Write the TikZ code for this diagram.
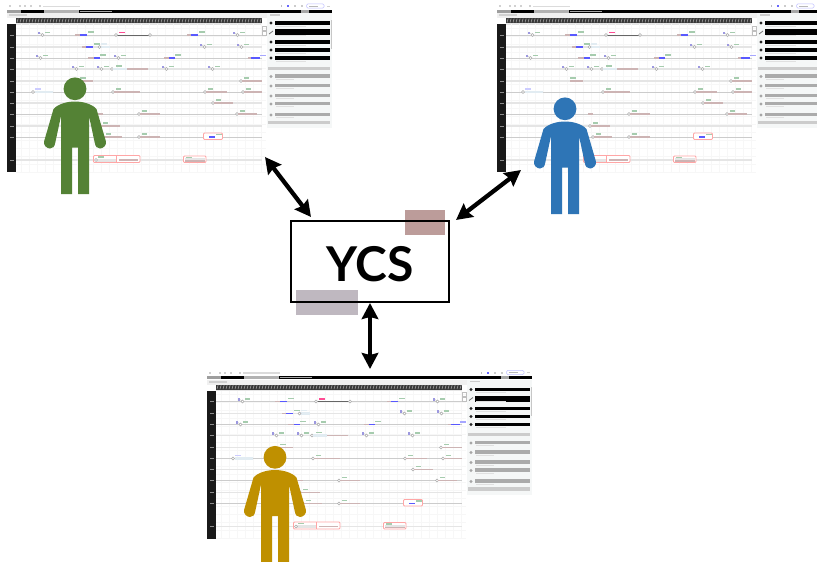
\documentclass[tikz,border=0pt]{standalone}
\usepackage{fontspec}
\setmainfont{Lato}
\usetikzlibrary{arrows.meta}
\definecolor{pgreen}{HTML}{548235}
\definecolor{pblue}{HTML}{2E75B6}
\definecolor{pgold}{HTML}{BF9000}
\definecolor{barpink}{HTML}{CDB4B4}
\definecolor{tagpurple}{HTML}{9C98E0}
\definecolor{taggreen}{HTML}{A6CCAE}
\definecolor{taggrey}{HTML}{ABABAB}
\definecolor{panelbg}{HTML}{F5F7F7}
\definecolor{lightblue}{HTML}{E2ECF2}
\definecolor{patchred}{HTML}{BC9C9A}
\definecolor{patchgrey}{HTML}{BFB8C0}
\tikzset{
  link/.style={line width=4.3pt,{Stealth[length=16pt,width=16.5pt,inset=2pt]}-{Stealth[length=16pt,width=16.5pt,inset=2pt]},black},
  ycsbox/.style={draw=black,line width=2pt,minimum width=158pt,minimum height=81pt,inner sep=0pt},
  person/.style={line join=round},
  redbox/.style={draw=red!35,line width=.8pt,fill=white,rounded corners=1pt},
}
\newcommand\gtag[3][taggreen]{\fill[#1] (#2,#3-.9) rectangle ++(5.5,1.6);}
\newcommand\ring[2]{\draw[taggrey,line width=.6pt,fill=white] (#1,#2) circle (1.5);}
\newcommand\tagmark[2]{\fill[tagpurple] (#1,#2-3.2) rectangle ++(2.2,2.4);\draw[taggrey!70,line width=.4pt] (#1+2,#2-2) -- (#1+4.5,#2);\ring{#1+4.5}{#2}\gtag{#1+6.5}{#2-2.5}}
\newcommand\pbar[3]{\fill[barpink] (#1,#3-.8) rectangle (#2,#3+.8);}
\newcommand\bbar[3]{\fill[blue!65] (#1,#3-.9) rectangle (#2,#3+.9);}
\newcommand\lbar[3]{\fill[lightblue] (#1,#3-1.2) rectangle (#2,#3+1.2);}
\newcommand\tick[3]{\ring{#1}{#3}\pbar{#1+1}{#2}{#3}\gtag{#1+2.5}{#3-3}}
\newcommand\paneltext[2]{\fill[black!12] (276,#2+2.6) rectangle ++(#1,1);}
\newcommand\screenshot{%
  % toolbar
  \foreach \x in {10,20,25,31,40} {\fill[black!18] (\x-1.2,5.2) rectangle ++(2.4,2);}
  \fill[black!14] (43,5.6) rectangle (80,7);
  \fill[black!25] (280.5,5.4) rectangle ++(1.6,1.6);
  \fill[blue!60] (286.5,5.2) rectangle ++(2,2);
  \foreach \x in {295,302} {\fill[black!20] (\x-1,5.2) rectangle ++(2,2);}
  \draw[blue!25,line width=.5pt,rounded corners=1.5pt,fill=white] (306.5,3.8) rectangle (324,8.2);
  \fill[black!28] (309,5.5) rectangle (318,6.6);
  \fill[black!18] (327,5.6) rectangle (330,6.6);
  % header strips
  \fill[black!6] (7,13) rectangle (267,18);
  \fill[black!10] (16,23) rectangle (262,24.5);
  % black bar
  \fill[black] (7,9.5) rectangle (332,12.6);
  \fill[black!38] (7,9.5) rectangle (21,12.6);
  \fill[black!30] (44,9.5) rectangle (79,12.6);
  \fill[black!35] (301,9.5) rectangle (309,12.6);
  \fill[black!35] (80,10.5) rectangle (112,11.4);
  \fill[black!18] (9,14) rectangle (27,16);
  % grid
  \foreach \x in {21,29,...,266} {\draw[black!3,line width=.3pt] (\x,24) -- (\x,172);}
  \foreach \y in {28,36,...,172} {\draw[black!3,line width=.3pt] (16,\y) -- (266,\y);}
  % time ruler and label column
  \fill[black!78] (16,18) rectangle (262,23);
  \foreach \x in {17,20,...,261} {\draw[white!70!black,line width=.5pt] (\x,22.5) -- (\x+1.2,18.5);}
  \fill[black!90] (7,24) rectangle (16,172);
  \foreach \y in {35,47,58,69,81,92,103,114,126,137,160} {
    \fill[black!45] (10,\y-.4) rectangle (14,\y+.4);}
  \foreach \y in {35,58,92,114,137} {\draw[black!20,line width=.7pt] (16,\y) -- (262,\y);}
  \foreach \y in {47,69,81,103,126,160} {\draw[black!10,line width=1.6pt] (16,\y) -- (262,\y);}
  \draw[black!25,line width=.5pt] (262.5,26) rectangle (266.5,30);
  \draw[black!25,line width=.5pt] (262.5,31) rectangle (266.5,35);
  % row 35
  \tagmark{38}{35}
  \pbar{75}{82}{35}\bbar{80}{87}{35}\gtag{88}{32}
  \draw[black!60,line width=1pt] (116,35) -- (150,35);\ring{116}{35}\ring{150}{35}
  \gtag[red!60!magenta!70]{119}{32.5}
  \pbar{187}{192}{35}\bbar{191}{198}{35}\gtag{199}{32}
  \tagmark{233}{35}
  % row 47
  \pbar{82}{88}{47}\bbar{86}{93}{47}\gtag{94}{44}\lbar{100}{110}{47}\gtag[lightblue]{101}{44}\ring{99.5}{47}
  \tagmark{200}{47}\tagmark{237}{47}
  % row 58
  \tagmark{36}{58}
  \pbar{88}{95}{58}\bbar{94}{100}{58}\gtag{100}{55}
  \tagmark{114}{58}
  \pbar{164}{170}{58}\bbar{169}{175}{58}\gtag{175}{55}
  \pbar{248}{252}{58}\bbar{251}{260}{58}\gtag[blue!35]{260}{55.5}
  % row 69
  \tagmark{72}{69}\tagmark{97}{69}
  \ring{112}{69}\gtag{116}{66}\lbar{113}{127}{69}\pbar{127}{148}{69}
  \tagmark{162}{69}\tagmark{208}{69}
  % row 81
  \pbar{80}{93}{81}\gtag{80}{78}
  \tick{241}{262}{81}
  % row 92
  \ring{33}{92}\lbar{35}{53}{92}\gtag[blue!20]{35}{89}
  \tick{113}{140}{92}\tick{205}{227}{92}\tick{243}{262}{92}
  % row 103
  \tick{213}{233}{103}
  % row 114
  \pbar{98}{103}{114}\tick{139}{160}{114}\tick{237}{257}{114}
  % row 126
  \tick{100}{120}{126}
  % row 137
  \tick{103}{122}{137}\tick{139}{160}{137}
  \draw[redbox] (203.5,133) rectangle (222.5,139.5);
  \bbar{209}{215}{137}\gtag{216}{134.5}
  % row 160
  \draw[redbox] (93.5,155.5) rectangle (140,162.5);
  \draw[red!35,line width=.7pt] (116.5,155.5) -- (116.5,162.5);
  \fill[black!10] (96,158.6) rectangle (116,161.8);
  \gtag{98}{157}\ring{96}{160}\pbar{119}{138}{160}
  \draw[redbox] (183.5,156) rectangle (206,162.5);
  \fill[black!10] (184.5,158) rectangle (205,161.5);
  \gtag{186}{157.5}\pbar{185}{205}{161}
  % side panel
  \fill[panelbg] (267,13) rectangle (332,128);
  \fill[black!20] (270,14.2) rectangle (280,15.6);
  \foreach \y/\h in {23/1.8,32/3,42/1.8,50/1.8,58/1.8} {
    \fill[black] (275,\y-\h) rectangle (330,\y+\h);
    \paneltext{30}{\y}
  }
  \foreach \y in {23,42,50,58} {\fill[black!85] (271,\y) circle (1.7);}
  \draw[black!55,line width=.8pt] (269,34) -- (273,31);
  \fill[black!20] (268,66.5) rectangle (330,69.5);
  \foreach \y in {76,85.5,95.5,103.5,114.5} {
    \fill[black!33] (275,\y-1.6) rectangle (330,\y+1.6);
    \paneltext{18}{\y}
    \fill[black!35] (271,\y+.5) circle (1.7);
  }
  \fill[black!20] (268,120.5) rectangle (330,124);
  \fill[black!22] (330.5,20) rectangle (332,49);
}
\newcommand\humanfig[1]{% person shape, top of head at y=78, centre x=0
  \fill[#1,person] (0,88.8) circle (11.4);
  \fill[#1,person] (0,101.5)
    .. controls (8,101.5) and (17,104) .. (21.5,109)
    -- (30.8,141)
    .. controls (32,145.5) and (28,148.5) .. (25,148.5)
    .. controls (22,148.5) and (20.5,146.5) .. (19.8,143)
    -- (14,116)
    -- (14,194) -- (3,194) -- (3,147.5) -- (-3,147.5) -- (-3,194) -- (-14,194)
    -- (-14,116)
    -- (-19.8,143)
    .. controls (-20.5,146.5) and (-22,148.5) .. (-25,148.5)
    .. controls (-28,148.5) and (-32,145.5) .. (-30.8,141)
    -- (-21.5,109)
    .. controls (-17,104) and (-8,101.5) .. (0,101.5) -- cycle;
}
\begin{document}
\begin{tikzpicture}[x=1pt,y=-1pt]
\useasboundingbox (0,0) rectangle (817,562);
\fill[white] (0,0) rectangle (817,562);
% screens
\begin{scope}[shift={(0,0)}]\screenshot\end{scope}
\begin{scope}[shift={(490,0)}]\screenshot\end{scope}
\begin{scope}[shift={(200,366.5)}]\screenshot\end{scope}
% people
\begin{scope}[shift={(75,0)}]\humanfig{pgreen}\end{scope}
\begin{scope}[shift={(565,20)}]\humanfig{pblue}\end{scope}
\begin{scope}[shift={(275,368.5)}]\humanfig{pgold}\end{scope}
% highlight patches
\fill[patchred] (405,210) rectangle (445,235);
\fill[patchgrey] (296,290) rectangle (358,315);
% central node
\node[ycsbox,anchor=center] (ycs) at (370,261.5) {};
\node[font=\fontsize{48}{48}\selectfont\bfseries,inner sep=0pt] (ycslabel) at (370,264.5) {YCS};
% connectors
\coordinate (userA) at (265,157);
\coordinate (userB) at (521,170);
\coordinate (userC) at (370,369);
\coordinate (ycsA) at (311,217);
\coordinate (ycsB) at (456,220);
\coordinate (ycsC) at (370,303);
\draw[link] (userA) -- (ycsA);
\draw[link] (userB) -- (ycsB);
\draw[link] (ycsC) -- (userC);
\end{tikzpicture}
\end{document}
